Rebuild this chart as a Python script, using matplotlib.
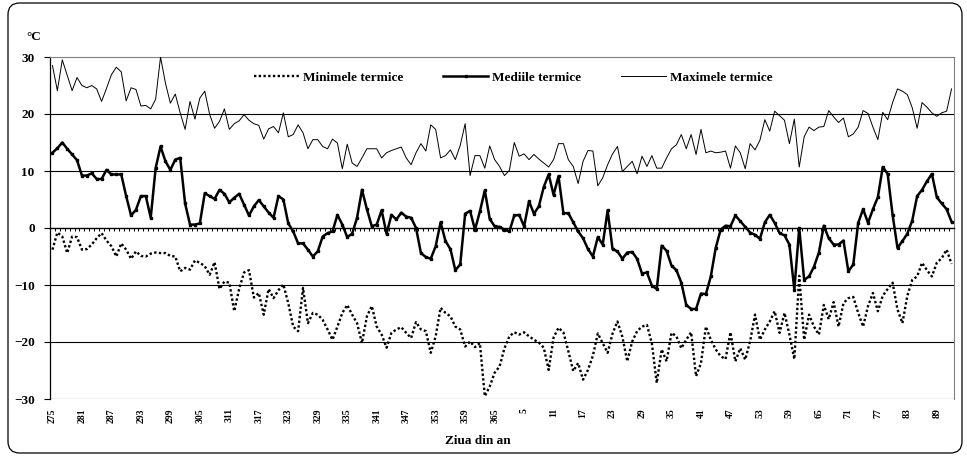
import numpy as np
import matplotlib.pyplot as plt
from matplotlib.patches import FancyBboxPatch

plt.rcParams['font.family'] = ['Liberation Serif', 'DejaVu Serif']

# zilele anului: octombrie 2007 - martie 2008 (an bisect)
days = list(range(275, 367)) + list(range(1, 93))

# temperaturi maxime zilnice (°C)
t_max = [28.5, 24.1, 29.5, 26.8, 24.1, 26.4, 25.0, 24.6, 25.0, 24.4, 22.2, 24.5,
         26.9, 28.2, 27.4, 22.3, 24.6, 24.3, 21.4, 21.5, 20.9, 22.6, 30.0,
         25.4, 21.9, 23.5, 20.2, 17.3, 22.2, 19.1, 22.8, 24.0, 19.9, 17.5, 18.7,
         20.9, 17.3, 18.3, 18.8, 19.9, 18.9, 18.3, 18.0, 15.6, 17.4, 17.8,
         16.7, 20.2, 16.0, 16.4, 18.1, 16.7, 13.9, 15.5, 15.5, 14.3, 13.9, 15.6,
         14.9, 10.4, 14.7, 11.4, 10.8, 12.3, 13.9, 13.9, 13.9, 12.3, 13.2,
         13.6, 13.9, 14.2, 12.3, 11.1, 13.2, 14.8, 13.5, 18.1, 17.3, 12.3, 12.7,
         13.7, 12.0, 14.5, 18.3, 9.2, 12.7, 12.7, 10.5, 14.4, 12.0, 10.8,
         9.2, 10.1, 15.0, 12.6, 13.0, 12.0, 12.9, 12.1, 11.4, 10.7, 12.0, 14.8,
         14.8, 12.0, 10.8, 7.8, 11.7, 13.6, 13.5, 7.4, 8.8, 11.1, 13.0,
         14.3, 9.9, 10.8, 11.7, 9.5, 12.6, 10.8, 12.7, 10.5, 10.5, 12.3, 13.9,
         14.6, 16.4, 13.9, 16.4, 12.9, 17.3, 13.2, 13.5, 13.2, 13.3, 13.5,
         10.5, 14.4, 13.2, 10.4, 14.8, 13.7, 15.4, 19.0, 17.0, 20.5, 19.7, 18.9,
         14.8, 19.1, 10.7, 16.0, 17.7, 17.1, 17.7, 17.8, 20.6, 19.5,
         18.5, 19.3, 16.0, 16.5, 17.7, 20.6, 20.1, 17.7, 15.5, 20.3, 19.0, 22.0,
         24.4, 24.0, 23.4, 21.1, 17.5, 22.0, 21.2, 20.2, 19.6, 20.2, 20.5, 24.4]

# temperaturi medii zilnice (°C)
t_med = [13.2, 14.0, 15.0, 13.9, 12.9, 11.9, 9.2, 9.2, 9.6, 8.6, 8.6, 10.2,
         9.4, 9.4, 9.4, 5.6, 2.2, 3.2, 5.6, 5.6, 1.8, 10.5, 14.3,
         11.7, 10.2, 12.0, 12.3, 4.3, 0.6, 0.6, 0.8, 6.1, 5.6, 5.1, 6.7,
         6.0, 4.5, 5.3, 6.0, 4.1, 2.2, 3.8, 4.9, 3.8, 2.7, 1.8,
         5.6, 5.0, 0.8, -0.6, -2.7, -2.7, -3.8, -5.0, -4.1, -1.5, -0.9, -0.6,
         2.3, 0.6, -1.6, -1.0, 1.8, 6.7, 3.3, 0.3, 0.6, 3.1, -1.0,
         2.3, 1.5, 2.7, 2.0, 1.8, 0.0, -4.4, -5.1, -5.4, -3.2, 1.0, -2.3,
         -3.7, -7.4, -6.4, 2.5, 3.0, -0.3, 2.9, 6.6, 1.6, 0.3, 0.2,
         -0.3, -0.6, 2.2, 2.3, 0.3, 4.7, 2.5, 3.8, 7.2, 9.4, 5.8, 9.1,
         2.6, 2.6, 1.0, -0.6, -1.8, -3.7, -5.0, -1.6, -2.9, 3.1, -3.7,
         -4.1, -5.4, -4.3, -4.2, -5.4, -8.0, -7.8, -10.1, -10.7, -3.1, -4.0, -6.6,
         -7.4, -9.6, -13.5, -14.2, -14.2, -11.5, -11.6, -8.5, -3.5, -0.3, 0.4,
         0.3, 2.2, 1.2, 0.2, -0.8, -1.2, -1.9, 1.0, 2.3, 0.9, -0.9, -1.3,
         -2.9, -10.8, 0.0, -9.1, -8.5, -6.8, -4.3, 0.4, -1.8, -2.9,
         -2.9, -2.2, -7.6, -6.4, 0.9, 3.3, 0.9, 3.3, 5.4, 10.7, 9.5, 2.3,
         -3.5, -2.3, -1.0, 1.3, 5.6, 6.7, 8.2, 9.5, 5.4, 4.3, 3.3, 1.1]

# temperaturi minime zilnice (°C)
t_min = [-3.8, -0.8, -1.5, -4.4, -1.5, -1.6, -3.8, -3.7, -2.9, -1.8, -0.9, -2.2,
         -3.2, -5.0, -2.7, -3.8, -5.4, -4.1, -4.9, -5.0, -4.5, -4.3, -4.4,
         -4.4, -4.9, -5.0, -7.6, -7.0, -7.3, -5.7, -6.1, -6.7, -8.2, -6.0, -10.7,
         -9.4, -9.6, -14.6, -10.7, -7.8, -7.4, -12.2, -11.4, -15.2, -10.7, -12.3,
         -10.9, -9.9, -13.2, -17.3, -18.1, -10.5, -16.7, -14.9, -15.2, -16.1, -17.8, -19.6,
         -17.3, -14.9, -13.5, -15.2, -16.7, -20.2, -15.5, -13.7, -17.3, -18.7, -21.0,
         -18.4, -17.8, -17.4, -18.4, -19.3, -16.5, -17.8, -18.1, -21.9, -19.0, -14.0, -14.9,
         -15.5, -17.3, -17.8, -20.8, -19.9, -20.9, -20.2, -29.5, -27.8, -25.4, -24.3,
         -21.1, -19.0, -18.3, -18.7, -18.3, -19.0, -19.6, -20.1, -21.0, -24.9, -19.2, -17.5,
         -18.3, -21.6, -25.1, -23.7, -26.6, -24.9, -22.4, -18.5, -20.2, -21.9, -18.5,
         -16.4, -19.1, -23.4, -19.9, -18.1, -17.3, -17.0, -20.2, -27.2, -21.3, -23.4, -18.4,
         -19.0, -21.1, -19.6, -18.3, -26.0, -23.7, -17.3, -19.6, -21.3, -22.5, -23.0,
         -18.3, -23.4, -21.1, -23.1, -19.9, -15.2, -19.6, -17.8, -16.4, -14.6, -18.4, -14.9,
         -18.7, -23.0, -8.4, -19.6, -15.2, -17.3, -18.7, -13.5, -16.0, -13.0,
         -17.3, -13.2, -12.3, -12.1, -14.9, -17.3, -13.7, -11.4, -14.6, -11.9, -10.7, -9.6,
         -14.3, -16.7, -11.9, -9.1, -8.5, -6.1, -7.4, -8.5, -6.1, -5.3, -3.8, -6.3]

y_ticks = [-30, -20, -10, 0, 10, 20, 30]
label_step = 6

W, H = 967, 457
fig = plt.figure(figsize=(W / 100, H / 100), dpi=100)
ax = fig.add_axes([50 / W, 1 - 399 / H, 904 / W, 342 / H])

x = np.arange(len(days))
ax.plot(x, t_min, color='black', lw=1.7, ls=(0, (1, 1)), label='Minimele termice', zorder=3)
ax.plot(x, t_med, color='black', lw=1.8, marker='s', ms=1.8, label='Mediile termice', zorder=4)
ax.plot(x, t_max, color='black', lw=0.7, label='Maximele termice', zorder=3)

ax.set_xlim(-0.5, len(days) - 0.5)
ax.set_ylim(-30, 30)

# linii orizontale de grila
for v in y_ticks:
    if v not in (0, 30):
        ax.axhline(v, color='black', lw=0.8, zorder=1)

# axa categoriilor trece prin 0, etichetele stau jos
ax.spines['bottom'].set_position(('data', 0))
ax.spines['bottom'].set_linewidth(1.0)
ax.spines['top'].set_color('#808080')
ax.spines['right'].set_color('#808080')
ax.spines['left'].set_linewidth(0.9)
ax.set_xticks(np.arange(len(days) + 1) - 0.5)
ax.tick_params(axis='x', direction='out', length=2.5, width=0.7, labelbottom=False)

ax.set_yticks(y_ticks)
ax.tick_params(axis='y', direction='out', length=4, width=0.8, pad=7)
for lab in ax.get_yticklabels():
    lab.set_fontweight('bold')
    lab.set_fontsize(9.5)

for i in range(0, len(days), label_step):
    ax.annotate(str(days[i]), xy=(i, -30), xytext=(0, -6.5), textcoords='offset points',
                rotation=90, ha='center', va='top', fontsize=7, fontweight='bold',
                annotation_clip=False)

ax.legend(loc='center left', bbox_to_anchor=(0.213, 0.939), ncol=3, frameon=False,
          handlelength=3.4, columnspacing=3.0, handletextpad=0.3,
          prop={'weight': 'bold', 'size': 9.5})

fig.text(26 / W, 1 - 37 / H, '°C', fontsize=9.5, fontweight='bold', va='center')
fig.text(478 / W, 1 - 441 / H, 'Ziua din an', fontsize=9.5, fontweight='bold',
         ha='center', va='center')

# chenarul rotunjit al graficului
frame = FancyBboxPatch((8 / W, 4 / H), 954 / W, 450 / H,
                       boxstyle='round,pad=0,rounding_size=0.012',
                       mutation_aspect=W / H, transform=fig.transFigure,
                       fill=False, ec='black', lw=0.9)
fig.patches.append(frame)

fig.savefig('out.png', dpi=100)
